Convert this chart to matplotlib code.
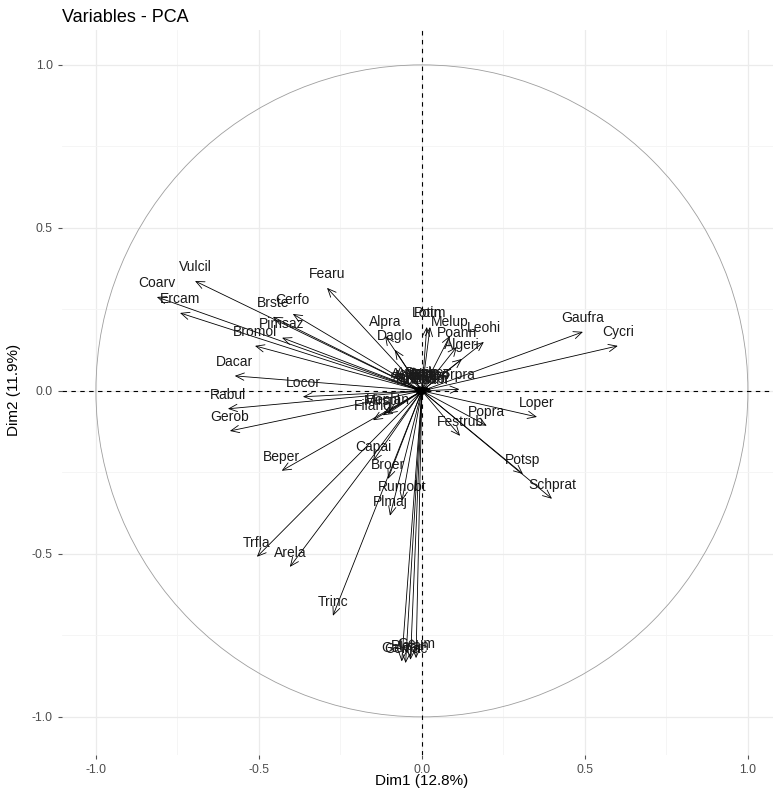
import numpy as np
import matplotlib.pyplot as plt
from matplotlib.patches import Circle

plt.rcParams['font.family'] = ['Liberation Sans', 'DejaVu Sans']

# variable coordinates on Dim1 / Dim2
var_names = ['Vulcil', 'Coarv', 'Ercam', 'Brste', 'Cerfo', 'Pimsaz', 'Bromol',
             'Dacar', 'Locor', 'Rabul', 'Gerob', 'Fearu', 'Alpra', 'Daglo',
             'Gaufra', 'Cycri', 'Lotin', 'Potm', 'Melup', 'Leohi', 'Poann',
             'Algeri', 'Trpra', 'Popra', 'Festrub', 'Loper', 'Potsp', 'Schprat',
             'Beper', 'Capai', 'Broer', 'Rumobt', 'Plmaj', 'Trfla', 'Arela',
             'Trinc', 'Filang', 'Mirspl', 'Hoplan',
             'Galver', 'Cenjac', 'Plalan', 'Geum',
             'Achmil', 'Agrcap', 'Antodo', 'Arrel', 'Bripr', 'Carfla',
             'Desces', 'Elyrep', 'Hollan', 'Luzcam', 'Ranacr', 'Sanmin']
dim1 = [-0.696, -0.813, -0.742, -0.457, -0.396, -0.429, -0.512,
        -0.574, -0.365, -0.595, -0.589, -0.291, -0.113, -0.083,
        0.494, 0.601, 0.015, 0.025, 0.086, 0.190, 0.107,
        0.123, 0.115, 0.199, 0.117, 0.353, 0.310, 0.399,
        -0.430, -0.150, -0.104, -0.061, -0.098, -0.506, -0.405,
        -0.273, -0.150, -0.120, -0.105,
        -0.062, -0.050, -0.035, -0.018,
        -0.030, -0.022, -0.012, -0.004, 0.004, 0.012,
        0.020, 0.028, -0.018, 0.008, 0.016, -0.026]
dim2 = [0.337, 0.288, 0.239, 0.227, 0.236, 0.163, 0.138,
        0.046, -0.018, -0.055, -0.123, 0.316, 0.169, 0.126,
        0.181, 0.138, 0.196, 0.196, 0.169, 0.150, 0.135,
        0.098, 0.005, -0.107, -0.138, -0.080, -0.255, -0.331,
        -0.245, -0.215, -0.270, -0.337, -0.383, -0.509, -0.540,
        -0.690, -0.090, -0.075, -0.070,
        -0.830, -0.835, -0.825, -0.820,
        0.010, 0.004, 0.012, -0.004, 0.008, 0.002,
        0.011, 0.006, -0.008, -0.010, -0.006, -0.002]

W, H = 773, 794
fig = plt.figure(figsize=(W / 100, H / 100), dpi=100)
ax = fig.add_axes([62 / W, 39 / H, (W - 62) / W, 725 / H])

ax.set_xlim(-1.104, 1.077)
ax.set_ylim(-1.117, 1.107)

major = [-1.0, -0.5, 0.0, 0.5, 1.0]
minor = [-0.75, -0.25, 0.25, 0.75]
ax.set_xticks(major)
ax.set_yticks(major)
ax.set_xticks(minor, minor=True)
ax.set_yticks(minor, minor=True)
ax.set_xticklabels(['%.1f' % v for v in major])
ax.set_yticklabels(['%.1f' % v for v in major])
ax.grid(which='major', color='#EBEBEB', lw=0.9)
ax.grid(which='minor', color='#F4F4F4', lw=0.6)
ax.set_axisbelow(True)
for s in ax.spines.values():
    s.set_visible(False)
ax.tick_params(which='major', length=3, color='#555555', labelsize=8.8,
               labelcolor='#4D4D4D')
ax.tick_params(which='minor', length=0)

ax.add_patch(Circle((0, 0), 1, fill=False, color='#9E9E9E', lw=0.6))
ax.axhline(0, color='black', ls=(0, (4, 4)), lw=0.8)
ax.axvline(0, color='black', ls=(0, (4, 4)), lw=0.8)

for name, x, y in zip(var_names, dim1, dim2):
    ax.annotate('', xy=(x, y), xytext=(0, 0),
                arrowprops=dict(arrowstyle='->,head_length=0.5,head_width=0.22',
                                lw=0.6, color='black', shrinkA=0, shrinkB=0,
                                mutation_scale=12))
    ax.annotate(name, (x, y), xytext=(0, 10), textcoords='offset points',
                ha='center', va='center', fontsize=10, color='#1a1a1a')

fig.text(62 / W, 1 - 17 / H, 'Variables - PCA', fontsize=13, ha='left', va='center')
fig.text(422 / W, 1 - 781 / H, 'Dim1 (12.8%)', fontsize=11, ha='center', va='center')
fig.text(14 / W, 1 - 390 / H, 'Dim2 (11.9%)', fontsize=11, ha='center', va='center',
         rotation=90)

fig.savefig('out.png', dpi=100)
